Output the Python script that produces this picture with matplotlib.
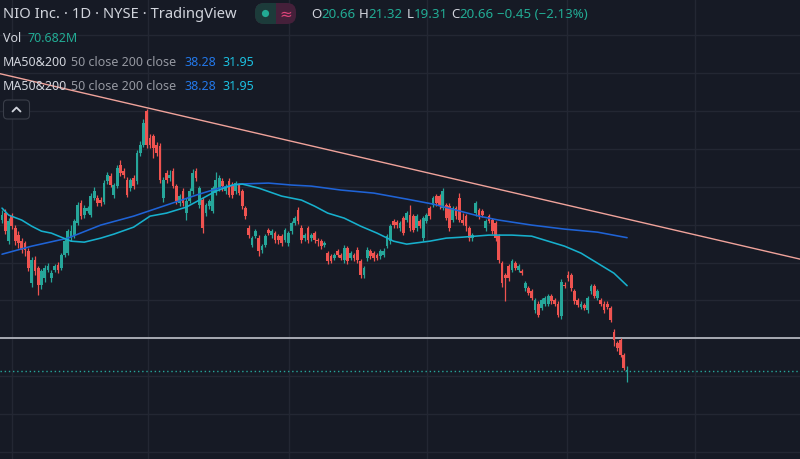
import matplotlib
matplotlib.use("Agg")
import matplotlib.pyplot as plt
from matplotlib.patches import FancyBboxPatch, Circle, Rectangle
import numpy as np

# ---------------- data (NIO daily candles) ----------------
opens = [40.6, 41.5, 37.8, 41.1, 39.5, 38.6, 37.8, 37.6, 36.5, 32.3,
         35.3, 34.3, 32.0, 32.9, 34.0, 32.9, 34.0, 34.7, 34.3, 36.0,
         36.2, 38.2, 38.6, 40.2, 42.8, 41.3, 41.8, 41.3, 43.5, 43.5,
         43.2, 43.0, 45.7, 46.4, 43.9, 45.1, 47.9, 47.1, 45.9, 44.8,
         46.1, 45.7, 49.4, 50.5, 55.0, 51.4, 51.7, 50.5, 50.4, 43.5,
         46.8, 46.1, 47.1, 45.1, 42.8, 44.4, 41.5, 43.1, 44.4, 47.1,
         42.6, 43.2, 41.5, 42.4, 41.8, 44.2, 44.8, 45.7, 44.4, 45.7,
         45.2, 44.4, 45.2, 44.4, 42.2, 39.5, 37.3, 38.5, 38.2, 36.6,
         37.3, 39.3, 38.6, 38.9, 38.5, 38.5, 38.0, 37.6, 39.1, 40.2,
         41.9, 39.5, 38.2, 39.5, 38.2, 38.9, 38.0, 37.8, 37.3, 36.2,
         35.8, 35.6, 36.5, 36.0, 35.3, 36.9, 35.6, 36.0, 36.6, 35.2,
         33.3, 35.6, 36.5, 36.2, 36.0, 35.8, 36.0, 37.2, 37.8, 40.5,
         40.3, 39.5, 40.9, 40.6, 41.3, 41.1, 39.5, 40.5, 38.2, 40.5,
         42.2, 42.6, 43.8, 43.8, 42.2, 42.6, 42.4, 40.6, 42.2, 43.5,
         40.6, 41.1, 39.5, 38.2, 41.5, 41.9, 41.8, 39.5, 41.1, 40.6,
         40.2, 38.5, 34.9, 33.3, 34.5, 34.0, 34.9, 34.0, 33.9, 31.6,
         31.6, 31.2, 28.7, 29.6, 29.0, 29.6, 29.6, 30.6, 30.0, 29.6,
         27.9, 32.0, 33.3, 33.3, 31.2, 30.0, 29.2, 29.4, 28.7, 31.2,
         31.9, 30.3, 30.0, 29.6, 29.6, 29.0, 25.9, 24.4, 24.8, 22.8,
         20.66]
highs = [41.9, 42.0, 40.9, 41.6, 40.0, 39.1, 38.3, 37.9, 36.9, 35.7,
         35.8, 34.6, 34.2, 34.7, 34.9, 34.0, 34.8, 35.1, 36.3, 38.1,
         39.4, 39.9, 40.8, 43.0, 43.3, 42.6, 42.5, 44.2, 44.9, 43.9,
         43.6, 45.9, 47.0, 46.8, 45.5, 47.8, 48.5, 47.5, 46.3, 46.2,
         46.5, 49.8, 51.0, 53.9, 55.3, 51.9, 52.0, 50.9, 50.8, 46.3,
         47.2, 47.2, 47.5, 45.4, 44.1, 44.8, 43.5, 44.8, 47.3, 47.5,
         45.1, 43.6, 42.9, 43.4, 45.1, 46.9, 46.5, 46.1, 45.4, 46.1,
         45.6, 45.8, 45.5, 44.7, 42.5, 39.9, 38.5, 39.4, 38.6, 37.5,
         38.8, 39.6, 39.4, 39.2, 38.8, 38.8, 39.6, 39.2, 40.5, 41.2,
         42.3, 39.9, 38.9, 39.8, 38.9, 39.2, 38.3, 38.1, 37.9, 36.5,
         36.1, 36.3, 36.8, 36.3, 37.3, 37.2, 36.5, 36.3, 37.0, 35.5,
         34.6, 37.0, 36.8, 36.5, 36.3, 36.8, 36.9, 38.8, 40.1, 40.8,
         40.6, 40.5, 41.2, 41.8, 42.6, 41.4, 41.4, 40.8, 41.2, 41.6,
         42.5, 43.8, 44.1, 44.1, 44.8, 42.9, 42.8, 42.5, 42.5, 44.2,
         41.6, 41.4, 39.8, 38.9, 43.1, 42.2, 42.1, 40.8, 41.4, 40.9,
         40.5, 38.8, 35.2, 33.6, 34.8, 35.5, 35.2, 34.8, 34.2, 32.6,
         31.9, 31.5, 30.3, 29.9, 30.3, 30.6, 30.9, 30.9, 30.3, 29.9,
         32.8, 32.5, 33.9, 33.6, 31.5, 30.3, 29.9, 29.7, 30.6, 32.2,
         32.2, 31.5, 30.3, 29.9, 29.9, 29.3, 26.2, 24.7, 25.1, 23.1,
         21.32]
lows = [40.2, 38.8, 37.4, 39.4, 37.3, 36.9, 36.2, 35.8, 33.9, 31.8,
        33.4, 30.7, 31.5, 32.5, 33.7, 32.5, 33.8, 33.6, 34.0, 35.7,
        36.0, 37.9, 38.3, 39.9, 40.7, 40.9, 41.5, 41.0, 43.2, 42.4,
        42.5, 42.7, 45.4, 44.9, 43.5, 44.8, 46.4, 46.1, 43.6, 44.5,
        44.7, 45.4, 49.1, 50.2, 50.1, 50.1, 48.8, 49.0, 45.5, 43.0,
        45.5, 45.8, 44.8, 42.7, 42.5, 42.4, 40.6, 42.8, 44.1, 45.8,
        42.2, 38.9, 41.2, 42.1, 41.5, 43.9, 44.5, 44.4, 44.1, 43.6,
        43.5, 44.1, 43.9, 42.0, 40.7, 38.2, 37.0, 38.2, 35.9, 36.3,
        37.0, 38.6, 38.3, 37.6, 37.5, 37.2, 37.7, 37.2, 38.8, 39.9,
        40.1, 37.6, 37.9, 37.6, 37.9, 37.6, 37.2, 36.8, 37.0, 34.8,
        34.9, 35.3, 35.7, 35.3, 35.0, 34.8, 35.3, 35.2, 35.0, 33.0,
        33.0, 35.2, 35.5, 35.2, 35.3, 35.5, 35.7, 36.9, 37.5, 39.6,
        39.6, 39.2, 38.6, 40.3, 39.2, 39.0, 39.2, 39.5, 37.9, 40.2,
        40.8, 42.3, 42.5, 42.1, 41.9, 40.6, 39.2, 40.3, 40.8, 40.3,
        39.9, 39.2, 37.9, 37.9, 41.2, 40.8, 41.0, 39.2, 40.2, 38.8,
        37.9, 35.0, 31.8, 29.9, 32.6, 33.7, 34.0, 33.7, 33.3, 31.3,
        30.7, 30.0, 28.4, 27.8, 28.7, 29.3, 29.3, 29.6, 29.3, 27.8,
        27.6, 31.6, 32.6, 31.3, 29.6, 29.1, 28.9, 28.7, 28.4, 30.9,
        30.3, 30.0, 29.3, 28.4, 28.9, 27.1, 24.0, 23.4, 22.5, 20.8,
        19.31]
closes = [41.3, 39.1, 40.5, 39.8, 37.8, 37.6, 36.6, 36.6, 34.3, 35.3,
          33.9, 32.0, 33.9, 34.3, 34.5, 33.6, 34.5, 34.0, 36.0, 37.8,
          39.1, 39.1, 40.5, 42.6, 41.1, 42.2, 42.2, 43.8, 44.4, 42.8,
          42.8, 45.5, 46.5, 45.2, 45.2, 47.5, 46.8, 46.5, 43.9, 45.9,
          45.1, 49.4, 50.5, 53.4, 50.5, 50.5, 50.1, 49.4, 45.9, 45.9,
          45.9, 46.5, 45.1, 43.1, 43.8, 42.8, 43.1, 44.4, 46.8, 46.1,
          44.8, 39.5, 42.6, 43.1, 44.8, 45.9, 46.1, 45.1, 45.1, 43.9,
          43.9, 45.5, 44.2, 42.4, 41.1, 38.6, 38.2, 39.1, 36.5, 37.2,
          38.5, 38.9, 39.1, 38.0, 38.0, 37.6, 39.3, 38.9, 40.2, 40.9,
          40.5, 38.0, 38.6, 38.0, 38.6, 38.0, 37.8, 37.2, 37.6, 35.2,
          35.2, 36.0, 36.0, 35.6, 36.9, 35.2, 36.2, 35.6, 35.3, 33.3,
          34.3, 36.6, 35.8, 35.6, 35.6, 36.5, 36.5, 38.5, 39.8, 39.9,
          39.9, 40.2, 38.9, 41.5, 39.5, 39.3, 41.1, 39.8, 40.9, 41.3,
          41.1, 43.5, 42.8, 42.4, 44.4, 40.9, 39.5, 42.2, 41.1, 40.6,
          40.2, 39.8, 38.2, 38.6, 42.8, 41.1, 41.3, 40.5, 40.5, 39.1,
          38.2, 35.3, 32.3, 32.9, 32.9, 35.2, 34.3, 34.5, 33.6, 32.3,
          31.0, 30.3, 30.0, 28.1, 30.0, 30.3, 30.6, 29.9, 29.6, 28.1,
          32.5, 31.9, 32.9, 31.6, 29.9, 29.4, 29.6, 29.0, 30.3, 31.9,
          30.6, 31.2, 29.6, 28.7, 29.2, 27.4, 24.8, 23.7, 22.8, 21.1,
          20.66]

# moving averages read at sample bars (bar index, value)
ma50_bars = [0, 2, 6, 9, 12, 15, 18, 21, 25, 30, 34, 40, 45, 50, 56, 60, 65, 70,
             73, 78, 85, 91, 95, 99, 104, 109, 114, 119, 123, 130, 135, 140,
             148, 155, 161, 166, 171, 176, 181, 186, 190]
ma50_vals = [42.18, 41.26, 40.60, 39.80, 39.14, 38.88, 38.35, 37.82, 37.69, 38.22,
             38.75, 39.67, 41.12, 41.52, 42.31, 43.24, 44.42, 45.22, 45.35, 44.82,
             43.76, 43.24, 42.44, 41.52, 40.86, 39.80, 38.88, 37.82, 37.43, 37.82,
             38.22, 38.35, 38.62, 38.62, 38.48, 37.82, 37.16, 36.24, 34.92, 33.60,
             31.95]
ma200_bars = [0, 9, 20, 30, 40, 50, 60, 66, 72, 81, 88, 94, 103, 113, 123, 131,
              138, 145, 151, 161, 171, 181, 190]
ma200_vals = [36.10, 37.16, 38.22, 39.94, 41.12, 42.58, 44.03, 44.82, 45.35, 45.48,
              45.22, 45.08, 44.56, 44.16, 43.37, 42.71, 41.92, 41.12, 40.60, 39.94,
              39.41, 39.01, 38.28]

trend_bars = [-0.6, 242.6]
trend_vals = [59.9, 35.45]
hline_price = 25.0
last_price = 20.66
price_grid = [10, 15, 20, 25, 30, 35, 40, 45, 50, 55, 60, 65]
time_grid = [3.0, 44.4, 87.2, 129.2, 171.7, 210.6]

# ---------------- style ----------------
BG = "#161a25"
GRID = "#232733"
UP = "#26a69a"
DOWN = "#ef5350"
TXT = "#d1d4dc"
GRAY = "#9598a1"
FONT = ["Noto Sans", "DejaVu Sans"]

W, H = 800, 460
fig = plt.figure(figsize=(W / 100, H / 100), dpi=100, facecolor=BG)
ax = fig.add_axes([0, 0, 1, 1])
ax.set_facecolor(BG)
ax.set_xlim(-0.61, 242.55)
ax.set_ylim(9.1, 69.75)
for s in ax.spines.values():
    s.set_visible(False)
ax.set_xticks([])
ax.set_yticks([])

for p in price_grid:
    ax.axhline(p, color=GRID, lw=1.0, zorder=0)
for t in time_grid:
    ax.axvline(t, color=GRID, lw=1.0, zorder=0)

o = np.array(opens); h = np.array(highs); l = np.array(lows); c = np.array(closes)
idx = np.arange(len(o))
cols = np.where(c >= o, UP, DOWN)
ax.vlines(idx, l, h, colors=cols, lw=0.9, zorder=3)
bottom = np.minimum(o, c)
height = np.maximum(np.abs(c - o), 0.12)
ax.bar(idx, height, bottom=bottom, width=0.84, color=cols, linewidth=0, zorder=4)

ax.plot(ma200_bars, ma200_vals, color="#1f63d6", lw=1.15, zorder=5, solid_capstyle="round")
ax.plot(ma50_bars, ma50_vals, color="#17b0cd", lw=1.15, zorder=5, solid_capstyle="round")

ax.plot(trend_bars, trend_vals, color="#f0a39b", lw=1.0, zorder=2)
ax.axhline(hline_price, color="#b2b5be", lw=1.3, zorder=2)
ax.axhline(last_price, color=UP, lw=1.0, ls=(0, (1, 2)), zorder=2)

# ---------------- header overlay (pixel coordinates) ----------------
ov = fig.add_axes([0, 0, 1, 1])
ov.set_xlim(0, W)
ov.set_ylim(H, 0)
ov.axis("off")
ov.patch.set_alpha(0)

renderer = fig.canvas.get_renderer()


def run(x, y, parts, size):
    for text, color, gap in parts:
        t = ov.text(x, y, text, color=color, fontsize=size,
                    va="center", ha="left", family=FONT)
        bb = t.get_window_extent(renderer)
        x += bb.width + gap
    return x


run(3, 14, [("NIO Inc. · 1D · NYSE · TradingView", TXT, 0)], 10.65)

# status pill
ov.add_patch(FancyBboxPatch((255, 4), 41, 21, boxstyle="round,pad=0,rounding_size=9",
                            facecolor="#45203a", edgecolor="none"))
ov.add_patch(FancyBboxPatch((255, 4), 28, 21, boxstyle="round,pad=0,rounding_size=9",
                            facecolor="#1c3b3a", edgecolor="none"))
ov.add_patch(Rectangle((275.5, 4), 9, 21, facecolor="#45203a", edgecolor="none"))
ov.add_patch(Circle((265.5, 14.5), 3.6, facecolor="#22ab94", edgecolor="none"))
ov.text(285.5, 14.5, "≈", color="#e0457b", fontsize=11, va="center", ha="center",
        family=["DejaVu Sans"])

num = "#22ab94"
run(311, 14, [("O", TXT, 0), ("20.66", num, 3.5), ("H", TXT, 0), ("21.32", num, 3.5),
              ("L", TXT, 0), ("19.31", num, 3.5), ("C", TXT, 0), ("20.66", num, 3.5),
              ("−0.45 (−2.13%)", num, 0)], 9.6)

run(3, 38, [("Vol", TXT, 6), ("70.682M", num, 0)], 9.0)
for yy in (62, 87):
    run(3, yy, [("MA50&200", TXT, 4), ("50 close 200 close", GRAY, 8),
                ("38.28", "#2377e8", 6), ("31.95", "#1cc0e0", 0)], 9.0)

# collapse button
ov.add_patch(FancyBboxPatch((3.5, 101), 26, 19, boxstyle="round,pad=0,rounding_size=4",
                            facecolor=BG, edgecolor="#3a3e49", lw=0.8))
ov.plot([12.5, 16.5, 20.5], [112.5, 108.5, 112.5], color=TXT, lw=1.3,
        solid_capstyle="round", solid_joinstyle="round")

fig.savefig("out.png", dpi=100, facecolor=BG)
